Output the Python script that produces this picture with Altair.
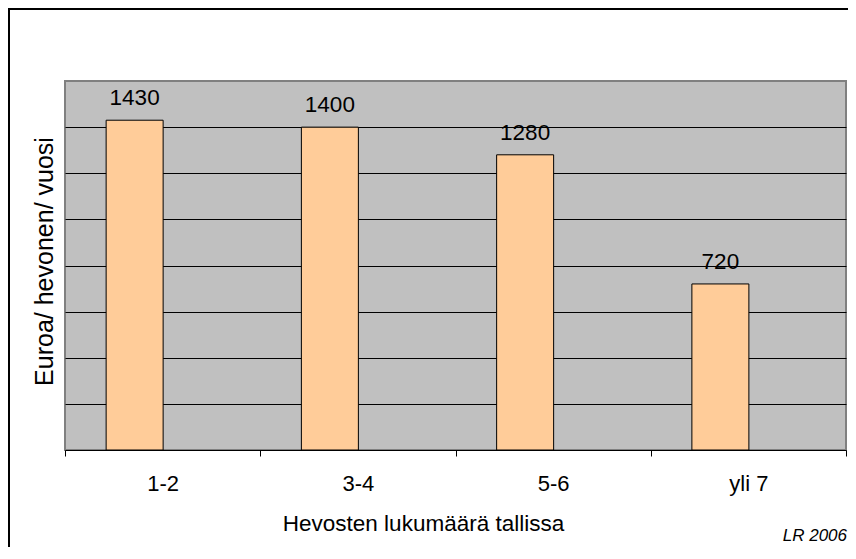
import altair as alt
import pandas as pd

categories = ["1-2", "3-4", "5-6", "yli 7"]
values = [1430, 1400, 1280, 720]
grid_values = [200, 400, 600, 800, 1000, 1200, 1400]
y_max = 1600
x_title = "Hevosten lukumäärä tallissa"
y_title = "Euroa/ hevonen/ vuosi"
source_note = "LR 2006"

df = pd.DataFrame({"group": categories, "value": values})

W, H = 781, 369
FONT = "Liberation Sans"

x = alt.X(
    "group:N",
    sort=categories,
    scale=alt.Scale(paddingInner=0, paddingOuter=0),
    axis=alt.Axis(
        title=x_title, labelAngle=0, tickBand="extent", grid=False,
        domainColor="black", domainWidth=1, tickColor="black", tickSize=6, tickWidth=1,
        labelFontSize=22, titleFontSize=22.5, labelPadding=17, titlePadding=18,
        titleX=358, titleAlign="center",
        labelColor="black", titleColor="black", labelFont=FONT, titleFont=FONT,
        titleFontWeight="normal",
    ),
)
y = alt.Y(
    "value:Q",
    scale=alt.Scale(domain=[0, y_max], nice=False),
    axis=alt.Axis(
        title=y_title, values=grid_values, labels=False, ticks=False, domain=False,
        grid=True, gridColor="black", gridWidth=1, gridOpacity=1,
        titleFontSize=25, titlePadding=8, titleY=180, titleColor="black", titleFont=FONT,
        titleFontWeight="normal",
    ),
)

bars = alt.Chart(df).mark_bar(
    width=57, xOffset=-28, fill="#FFCC99", stroke="black", strokeWidth=1
).encode(x=x, y=y)

labels = alt.Chart(df).mark_text(
    xOffset=-28, dy=-15, baseline="alphabetic", align="center",
    font=FONT, fontSize=22.5, color="black"
).encode(x=x, y=y, text="value:Q")

frame_data = alt.Data(values=[{}])
left_line = alt.Chart(frame_data).mark_rule(color="black", strokeWidth=2).encode(
    x=alt.value(-56), y=alt.value(-72), y2=alt.value(H + 110)
)
top_line = alt.Chart(frame_data).mark_rule(color="black", strokeWidth=2).encode(
    x=alt.value(-57), x2=alt.value(W + 10), y=alt.value(-72)
)
note = alt.Chart(frame_data).mark_text(
    text=source_note, align="right", baseline="alphabetic",
    font=FONT, fontSize=17, fontStyle="italic", color="black"
).encode(x=alt.value(W + 1), y=alt.value(H + 91))

chart = (
    alt.layer(bars, labels, left_line, top_line, note)
    .properties(
        width=W, height=H,
        autosize=alt.AutoSizeParams(type="none"),
        padding={"left": 57, "top": 73, "right": 2, "bottom": 97},
        background="white",
    )
    .configure_view(fill="#C0C0C0", stroke="#808080", strokeWidth=2)
)

chart.save("out.html", embed_options={"renderer": "svg", "actions": False})
